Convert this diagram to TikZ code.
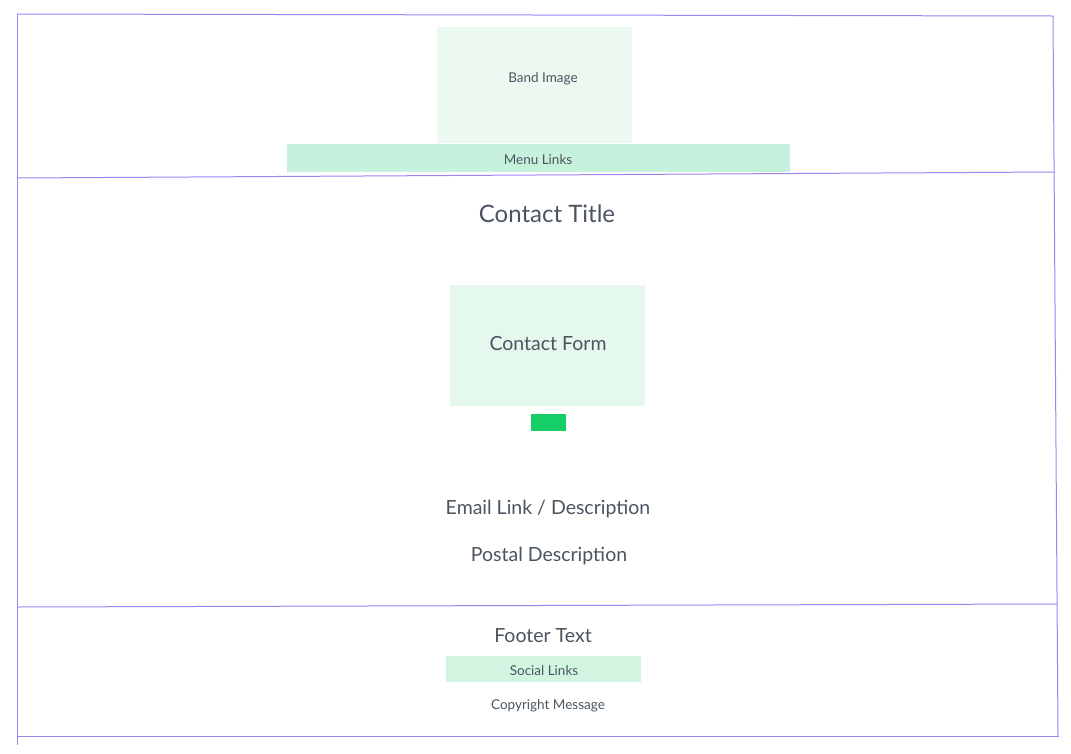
\documentclass[tikz,border=0pt]{standalone}
\usepackage{fontspec}
\setmainfont{Lato}
\begin{document}
\begin{tikzpicture}[x=1pt,y=-1pt,
  frame/.style={draw=frameC,line width=1pt},
  txt/.style={text=textC,inner sep=0pt},
  box/.style={inner sep=0pt,text=textC},
  small/.style={font=\fontsize{13.5}{16}\selectfont},
  big/.style={font=\fontsize{19.5}{23}\selectfont},
]
\definecolor{frameC}{HTML}{9F85F2}
\definecolor{textC}{HTML}{4B5561}
\definecolor{bandC}{HTML}{EBF9F1}
\definecolor{menuC}{HTML}{C6F1DC}
\definecolor{formC}{HTML}{E4F8EE}
\definecolor{btnC}{HTML}{15CE68}
\definecolor{socialC}{HTML}{D2F5E2}
\useasboundingbox[fill=white] (0,0) rectangle (1071,753);
% frame corners
\coordinate (tl) at (17,14);
\coordinate (tr) at (1053,16);
\coordinate (bl) at (17,745);
\coordinate (br) at (1058,737);
\coordinate (s1l) at (17,178);
\coordinate (s1r) at (1054,172);
\coordinate (s2l) at (17,607);
\coordinate (s2r) at (1057,604);
\coordinate (bbl) at (17,736);
\coordinate (bbr) at (1059,736);
\draw[frame] (tl) -- (tr) -- (br);
\draw[frame] (tl) -- (bl);
\draw[frame] (s1l) -- (s1r);
\draw[frame] (s2l) -- (s2r);
\draw[frame] (bbl) -- (bbr);
% header
\node[box,fill=bandC,minimum width=195pt,minimum height=116pt] (band) at (534.5,85) {};
\node[txt,small] (bandtxt) at (543,79) {Band Image};
\node[box,fill=menuC,minimum width=503pt,minimum height=28pt] (menu) at (538.5,158) {};
\node[txt,small] (menutxt) at (538,160) {Menu Links};
% content
\node[txt,font=\fontsize{24}{28}\selectfont] (title) at (547,213.5) {Contact Title};
\node[box,fill=formC,minimum width=195pt,minimum height=121pt] (form) at (547.5,345.5) {};
\node[txt,big] (formtxt) at (548,343.5) {Contact Form};
\node[box,fill=btnC,minimum width=35pt,minimum height=17pt] (btn) at (548.5,422.5) {};
\node[txt,big] (email) at (548,508.5) {Email Link / Description};
\node[txt,big] (postal) at (549,555.5) {Postal Description};
% footer
\node[txt,big] (footer) at (543,636) {Footer Text};
\node[box,fill=socialC,minimum width=195pt,minimum height=26pt] (social) at (543.5,669) {};
\node[txt,small] (socialtxt) at (544,671) {Social Links};
\node[txt,small] (copy) at (548,705.5) {Copyright Message};
\end{tikzpicture}
\end{document}
